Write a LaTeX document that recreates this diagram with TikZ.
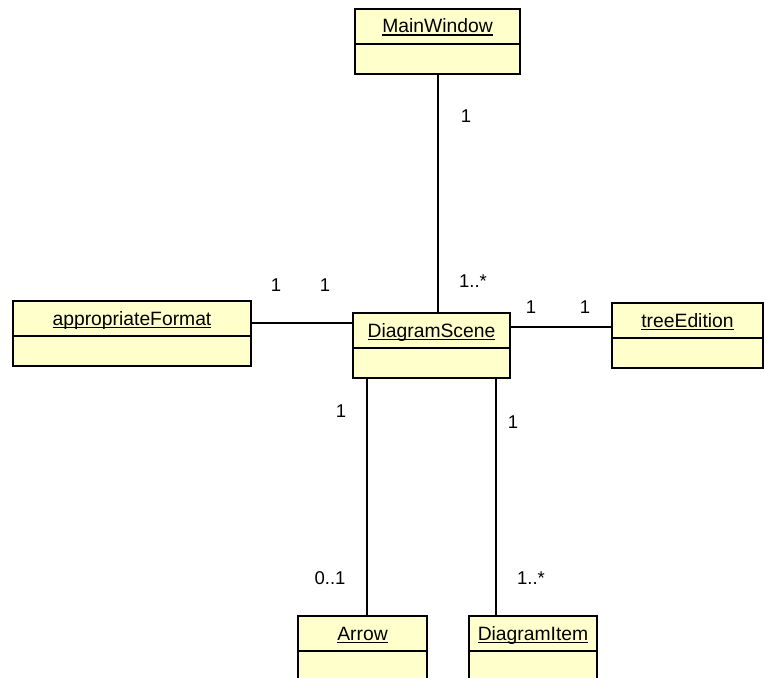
\documentclass[tikz,border=0pt]{standalone}
\usepackage{fontspec}
\setmainfont{Liberation Sans}
\definecolor{umlfill}{RGB}{255,255,204}
% underlined class name with a rule at a fixed depth
\newcommand\umlname[1]{\setbox0=\hbox{#1}\rlap{\rule[-2.8pt]{\wd0}{1.3pt}}\box0}
\begin{document}
\begin{tikzpicture}[x=1pt,y=-1pt,
  classhead/.style={draw=black, fill=umlfill, line width=2pt, inner sep=0pt, outer sep=0pt,
    minimum height=35pt, text height=15pt, text depth=2pt,
    font=\fontsize{19.3}{22}\selectfont},
  classbody/.style={draw=black, fill=umlfill, line width=2pt, inner sep=0pt, outer sep=0pt,
    minimum height=30pt, anchor=north},
  assoc/.style={draw=black, line width=1.7pt},
  mult/.style={font=\fontsize{18.5}{21}\selectfont, inner sep=0pt}]
\useasboundingbox (0,0) rectangle (765,677);
\clip (0,0) rectangle (765,677);

% classes
\node[classhead, minimum width=165pt] (mw) at (437.5,26.5) {\umlname{MainWindow}};
\node[classbody, minimum width=165pt] (mwb) at (mw.south) {};

\node[classhead, minimum width=238pt] (af) at (132,318.5) {\umlname{appropriateFormat}};
\node[classbody, minimum width=238pt] (afb) at (af.south) {};

\node[classhead, minimum width=157pt] (ds) at (431.5,330.5) {\umlname{DiagramScene}};
\node[classbody, minimum width=157pt] (dsb) at (ds.south) {};

\node[classhead, minimum width=151pt] (te) at (687.5,320.5) {\umlname{treeEdition}};
\node[classbody, minimum width=151pt] (teb) at (te.south) {};

\node[classhead, minimum width=129pt] (ar) at (362.5,633.5) {\umlname{Arrow}};
\node[classbody, minimum width=129pt] (arb) at (ar.south) {};

\node[classhead, minimum width=128pt] (di) at (533,633.5) {\umlname{DiagramItem}};
\node[classbody, minimum width=128pt] (dib) at (di.south) {};

% associations
\draw[assoc] ([xshift=0.5pt]mwb.south) -- ([xshift=0.5pt]mwb.south |- ds.north);
\draw[assoc] ([yshift=-4.5pt]af.east) -- ([yshift=7.5pt]ds.west);
\draw[assoc] ([yshift=3.5pt]ds.east) -- ([yshift=-6.5pt]te.west);
\draw[assoc] ([xshift=-64.5pt]dsb.south) -- ([xshift=-64.5pt]dsb.south |- ar.north);
\draw[assoc] ([xshift=64.5pt]dsb.south) -- ([xshift=64.5pt]dsb.south |- di.north);

% multiplicities
\node[mult] (m1) at (466,116) {1};
\node[mult] (m2) at (473,281) {1..*};
\node[mult] (m3) at (276,285) {1};
\node[mult] (m4) at (325,285) {1};
\node[mult] (m5) at (531,307) {1};
\node[mult] (m6) at (585,307) {1};
\node[mult] (m7) at (341,411) {1};
\node[mult] (m8) at (513,422) {1};
\node[mult] (m9) at (330,578) {0..1};
\node[mult] (m10) at (531,578) {1..*};
\end{tikzpicture}
\end{document}
